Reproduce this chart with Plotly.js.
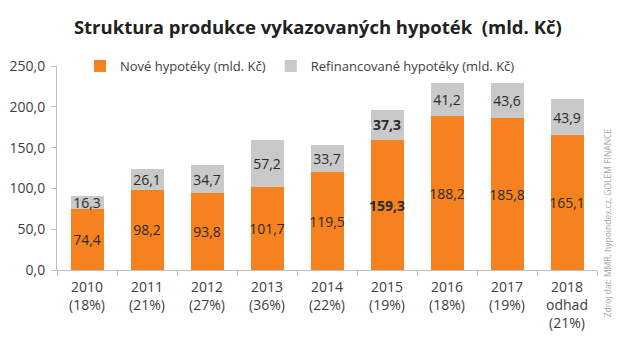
<!DOCTYPE html>
<html><head><meta charset="utf-8">
<script src="https://cdn.plot.ly/plotly-3.0.1.min.js"></script>
<style>body{margin:0;background:#fff}#c{width:642px;height:350px}</style>
</head><body><div id="c"></div>
<script>
const categories = ['2010<br>(18%)','2011<br>(21%)','2012<br>(27%)','2013<br>(36%)','2014<br>(22%)','2015<br>(19%)','2016<br>(18%)','2017<br>(19%)','2018<br>odhad<br>(21%)'];
const newMortgages = [74.4, 98.2, 93.8, 101.7, 119.5, 159.3, 188.2, 185.8, 165.1];
const refinanced = [16.3, 26.1, 34.7, 57.2, 33.7, 37.3, 41.2, 43.6, 43.9];
const boldIndex = 5;

const fmt = (v, i) => { const s = v.toFixed(1).replace('.', ','); return i === boldIndex ? '<b>' + s + '</b>' : s; };
const FONT = '"Open Sans", sans-serif';
const common = {type:'bar', textposition:'inside', insidetextanchor:'middle', textangle:0, constraintext:'none',
  textfont:{family:FONT, size:14, color:'#2b2b2b'}, hoverinfo:'skip'};

const data = [
  Object.assign({}, common, {name:'Nové hypotéky (mld. Kč)', x:categories, y:newMortgages,
    text:newMortgages.map(fmt), marker:{color:'#F5821F', line:{width:0}}}),
  Object.assign({}, common, {name:'Refinancované hypotéky (mld. Kč)', x:categories, y:refinanced,
    text:refinanced.map(fmt), marker:{color:'#C9C9C9', line:{width:0}}})
];

const layout = {
  width:642, height:350, margin:{l:57, r:45, t:66, b:80},
  paper_bgcolor:'#fff', plot_bgcolor:'#fff',
  barmode:'stack', bargap:0.45, separators:',.',
  font:{family:FONT, color:'#404040', size:13},
  title:{text:'<b>Struktura produkce vykazovaných hypoték  (mld. Kč)</b>', font:{family:FONT, size:18.5, color:'#222'}, x:0.495, xanchor:'center', y:0.92, yanchor:'middle'},
  showlegend:true,
  legend:{orientation:'h', traceorder:'normal', x:(80-57)/540, y:1.0, xanchor:'left', yanchor:'middle',
    font:{family:FONT, size:13, color:'#404040'}, itemwidth:30, bgcolor:'rgba(0,0,0,0)'},
  xaxis:{showline:true, linecolor:'#BFBFBF', linewidth:1, ticks:'outside', tickson:'boundaries', ticklen:5, tickcolor:'#BFBFBF',
    ticklabelstandoff:4, tickfont:{family:FONT, size:14, color:'#404040'}, showgrid:false, zeroline:false, fixedrange:true},
  yaxis:{range:[0,250], dtick:50, tickformat:'.1f', showline:true, linecolor:'#BFBFBF', linewidth:1, ticks:'outside', ticklen:5, tickcolor:'#BFBFBF',
    ticklabelstandoff:3, tickfont:{family:FONT, size:14, color:'#404040'}, showgrid:false, zeroline:false},
  annotations:[{text:'Zdroj dat: MMR, hypoindex.cz, GOLEM FINANCE', xref:'paper', yref:'paper', x:1.005, y:0.23, xanchor:'left', yanchor:'middle',
    textangle:-90, showarrow:false, font:{family:FONT, size:8.5, color:'#A6A6A6'}}]
};
Plotly.newPlot('c', data, layout, {displayModeBar:false, staticPlot:true});
</script></body></html>
